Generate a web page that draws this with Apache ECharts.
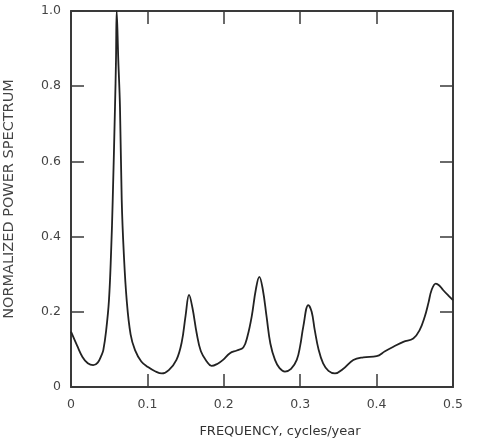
<!DOCTYPE html>
<html><head><meta charset="utf-8">
<script src="https://cdn.jsdelivr.net/npm/echarts@6/dist/echarts.min.js"></script>
<style>html,body{margin:0;padding:0;background:#fff}#c{width:487px;height:443px}</style>
</head><body><div id="c"></div>
<script>
const freq = [0.000,0.008,0.015,0.022,0.029,0.035,0.040,0.0423,0.046,0.0497,0.0525,0.0546,0.0576,0.0589,0.0598,0.0619,0.0641,0.0664,0.069,0.0729,0.078,0.0838,0.092,0.1008,0.110,0.119,0.128,0.138,0.145,0.150,0.1545,0.159,0.1645,0.170,0.178,0.184,0.192,0.199,0.208,0.217,0.2255,0.231,0.2365,0.242,0.2465,0.251,0.256,0.261,0.267,0.273,0.280,0.288,0.2955,0.300,0.304,0.3106,0.315,0.319,0.324,0.330,0.337,0.3455,0.356,0.3695,0.3826,0.400,0.411,0.422,0.435,0.448,0.456,0.463,0.468,0.472,0.4775,0.482,0.487,0.494,0.500];
const power = [0.147,0.110,0.080,0.063,0.058,0.065,0.085,0.098,0.150,0.231,0.36,0.497,0.745,0.87,1.0,0.87,0.745,0.497,0.36,0.231,0.14,0.098,0.068,0.053,0.042,0.036,0.045,0.072,0.12,0.19,0.245,0.21,0.143,0.095,0.067,0.056,0.062,0.072,0.090,0.097,0.105,0.135,0.187,0.26,0.293,0.26,0.187,0.115,0.072,0.050,0.041,0.048,0.072,0.110,0.160,0.218,0.20,0.152,0.100,0.063,0.043,0.036,0.048,0.072,0.079,0.082,0.095,0.107,0.120,0.129,0.150,0.187,0.225,0.258,0.275,0.270,0.258,0.243,0.231];
const xTicks = ['0','0.1','0.2','0.3','0.4','0.5'];
const yTicks = ['0','0.2','0.4','0.6','0.8','1.0'];
const xTitle = 'FREQUENCY, cycles/year';
const yTitle = 'NORMALIZED POWER SPECTRUM';

const font = 'DejaVu Sans';
const axisCol = '#3a3a3a';
const chart = echarts.init(document.getElementById('c'), null, {renderer:'canvas'});
const tickStyle = {show:true, inside:true, length:13, lineStyle:{color:axisCol, width:1.5}};
chart.setOption({
  animation:false,
  grid:{left:71, right:34, top:11, bottom:56, containLabel:false, outerBoundsMode:'none'},
  xAxis:[{
    type:'value', min:0, max:0.5, interval:0.1, position:'bottom',
    axisLine:{show:true, onZero:false, lineStyle:{color:axisCol, width:2}},
    axisTick:tickStyle, splitLine:{show:false},
    axisLabel:{margin:11, color:'#444', fontFamily:font, fontSize:12.5,
      formatter:(v)=>xTicks[Math.round(v*10)]},
    name:xTitle, nameLocation:'middle', nameGap:38,
    nameTextStyle:{color:'#333', fontFamily:font, fontSize:13, padding:[0,0,0,36]}
  },{
    type:'value', min:0, max:0.5, interval:0.1, position:'top',
    axisLine:{show:true, onZero:false, lineStyle:{color:axisCol, width:2}},
    axisTick:tickStyle, axisLabel:{show:false}, splitLine:{show:false}
  }],
  yAxis:[{
    type:'value', min:0, max:1, interval:0.2, position:'left',
    axisLine:{show:true, onZero:false, lineStyle:{color:axisCol, width:2}},
    axisTick:tickStyle, splitLine:{show:false},
    axisLabel:{margin:10, color:'#444', fontFamily:font, fontSize:12.5,
      formatter:(v)=>yTicks[Math.round(v*5)]},
    name:yTitle, nameLocation:'middle', nameGap:54, nameRotate:90,
    nameTextStyle:{color:'#444', fontFamily:font, fontSize:14.5}
  },{
    type:'value', min:0, max:1, interval:0.2, position:'right',
    axisLine:{show:true, onZero:false, lineStyle:{color:axisCol, width:2}},
    axisTick:tickStyle, axisLabel:{show:false}, splitLine:{show:false}
  }],
  series:[{
    type:'line', xAxisIndex:0, yAxisIndex:0,
    data: freq.map((f,i)=>[f, power[i]]),
    smooth:0.4, showSymbol:false, symbol:'none',
    lineStyle:{color:'#222', width:1.8}
  }]
});
</script></body></html>
